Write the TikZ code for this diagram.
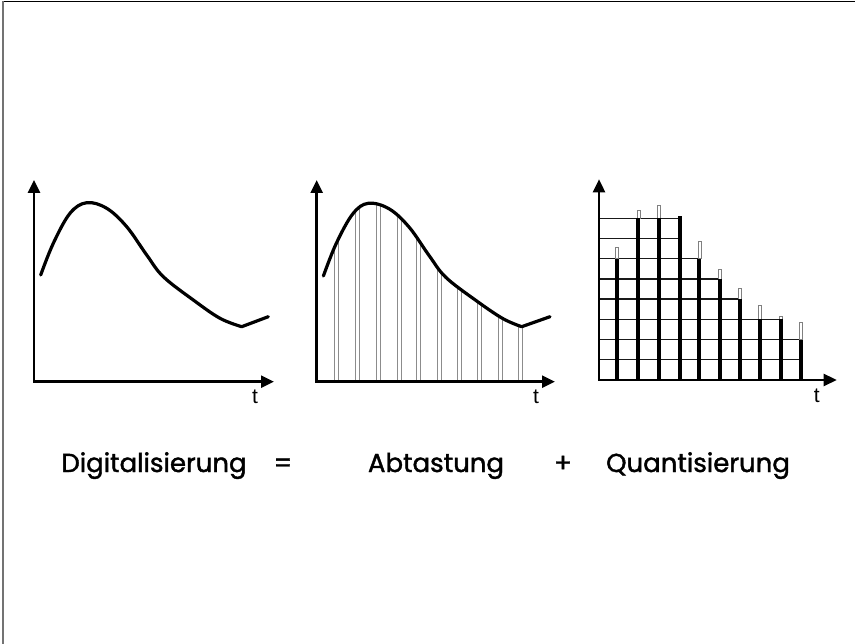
\documentclass[tikz,border=0pt]{standalone}
\usepackage{fontspec}
\setmainfont{Poppins}
\newfontfamily\wfont[FakeBold=1.6]{Poppins}
\newfontfamily\tfont{Liberation Sans}
\usetikzlibrary{arrows.meta}
\begin{document}
\begin{tikzpicture}[x=1pt,y=-1pt,
  axis/.style={line width=2.6pt,line join=miter,{Triangle[length=13pt,width=12pt]}-{Triangle[length=13pt,width=12pt]}},
  curve/.style={line width=3.2pt,line cap=round,line join=round},
  sample/.style={draw=black!45,line width=0.6pt},
  grid/.style={line width=1.4pt,draw=black!90},
  errbar/.style={draw=black!50,line width=0.6pt,fill=white},
  tlabel/.style={font=\tfont\fontsize{21}{21}\selectfont,inner sep=0pt},
  word/.style={font=\wfont\fontsize{26}{26}\selectfont,inner sep=0pt,anchor=base}]
\useasboundingbox (0,0) rectangle (855,644);
% page frame
\draw[line width=1.6pt] (2.7,1.5) -- (855,1.5);
\draw[black!55,line width=2pt] (2.7,1.5) -- (2.7,644);

% ---------- panel 1 ----------
\begin{scope}[shift={(34,0)}]
  \draw[curve] plot[smooth,tension=0.6] coordinates{(6.7,275) (19.3,243.3) (36,213.3) (52.7,202.7) (72.7,208.3) (92.7,226.7) (112.7,255) (129.3,276.7) (159.3,300) (186,318.3) (207.7,326.7)} -- (234.3,316.7);
  \draw[axis] (0,180) -- (0,381.7) -- (240,381.7);
  \node[tlabel] (t1) at (221,397) {t};
\end{scope}

% ---------- panel 2 ----------
\begin{scope}[shift={(316.7,0)}]
  \begin{scope}
    \clip plot[smooth,tension=0.6] coordinates{(6.7,276) (19.3,244) (36,214) (51.6,203.3) (72.7,209) (92.7,227.5) (112.7,256) (129.3,277.5) (159.3,300.5) (186,318.5) (205,326.7)} -- (233.3,316.7) -- (233.3,390) -- (0,390) -- cycle;
    \foreach \bx in {19.3,40.8,61.6,82.3,101.6,122.3,142.6,162.6,183.3,203.3}
      \draw[sample] (\bx-2,381.7) rectangle (\bx+2,190);
  \end{scope}
  \draw[curve] plot[smooth,tension=0.6] coordinates{(6.7,276) (19.3,244) (36,214) (51.6,203.3) (72.7,209) (92.7,227.5) (112.7,256) (129.3,277.5) (159.3,300.5) (186,318.5) (205,326.7)} -- (233.3,316.7);
  \draw[axis] (0,180) -- (0,381.7) -- (238.3,381.7);
  \node[tlabel] (t2) at (219.3,397) {t};
\end{scope}

% ---------- panel 3 ----------
\begin{scope}[shift={(599,0)}]
  % horizontal grid lines: level / right end
  \foreach \k/\xe in {8/81,7/81,6/100.3,5/121,4/141,3/181.7,2/201.7,1/201.7}
    \draw[grid] (0,380-\k*20.2) -- (\xe,380-\k*20.2);
  % quantisation error (white) bars and quantised (black) bars
  \foreach \bx/\l/\e in {17.7/6/247.3,39.3/8/210.7,60/8/205.7,100.3/6/241,121/5/269,141/4/288,161/3/305,181.7/3/316.7,201.7/2/322.7}
  {
    \draw[errbar] (\bx-1.5,\e) rectangle (\bx+1.5,380-\l*20.2);
    \fill (\bx-1.9,380) rectangle (\bx+1.9,380-\l*20.2);
  }
  \fill (81-1.9,380) rectangle (81+1.9,216.3);
  \draw[axis] (0,179.3) -- (0,380) -- (237.7,380);
  \node[tlabel] (t3) at (217.7,396) {t};
\end{scope}

% ---------- caption ----------
\node[word] (w1) at (154,472) {Digitalisierung};
\node[word] (w2) at (283,472) {=};
\node[word] (w3) at (436,472) {Abtastung};
\node[word] (w4) at (563,472) {+};
\node[word] (w5) at (698,472) {Quantisierung};
\end{tikzpicture}
\end{document}
